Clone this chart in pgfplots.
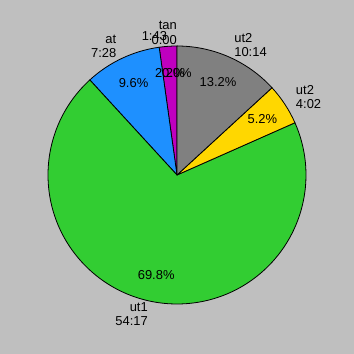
\documentclass[border=0pt]{standalone}
\usepackage{pgfplots}
\pgfplotsset{compat=1.18}
\usepackage{fontspec}
\setmainfont{Liberation Sans}
\definecolor{bgc}{HTML}{BFBFBF}
\definecolor{tanc}{HTML}{D2B48C}
\definecolor{magc}{HTML}{BF00BF}
\definecolor{bluec}{HTML}{1E90FF}
\definecolor{greenc}{HTML}{32CD32}
\definecolor{yellowc}{HTML}{FFD700}
\definecolor{grayc}{HTML}{808080}
% seconds / colour / label / percent  (counter-clockwise from 90 deg)
\def\slices{0/tanc/{tan\\0:00}/0.0, 103/magc/{\\1:43}/2.2, 448/bluec/{at\\7:28}/9.6, 3257/greenc/{ut1\\54:17}/69.8, 242/yellowc/{ut2\\4:02}/5.2, 614/grayc/{ut2\\10:14}/13.2}
\def\total{4664}
\begin{document}
\begin{tikzpicture}
\begin{axis}[scale only axis, width=354bp, height=354bp,
  xmin=-177, xmax=177, ymin=-179, ymax=175, hide axis, clip=false]
\pgfplotsextra{
  \fill[bgc] (rel axis cs:0,0) rectangle (rel axis cs:1,1);
  \foreach \v/\c/\lab/\pct [remember=\e as \s (initially 90)] in \slices {
    \pgfmathsetmacro\e{\s+(360/\total)*\v}
    \filldraw[fill=\c, draw=black, line width=0.8pt, line join=round]
      (axis cs:0,0) -- (axis cs:{129*cos(\s)},{129*sin(\s)})
      arc[start angle=\s, end angle=\e, radius=129bp] -- cycle;
  }
  \foreach \v/\c/\lab/\pct [remember=\e as \s (initially 90)] in \slices {
    \pgfmathsetmacro\e{\s+(360/\total)*\v}
    \pgfmathsetmacro\m{(\s+\e)/2}
    \pgfmathsetmacro\lx{142*cos(\m)}
    \pgfmathsetmacro\ly{142*sin(\m)}
    \pgfmathsetmacro\px{102*cos(\m)}
    \pgfmathsetmacro\py{102*sin(\m)}
    \ifdim \lx pt > 0.01pt
      \node[anchor=west, align=left, inner sep=0pt, font=\fontsize{13}{14.5}\selectfont] at (axis cs:\lx,\ly) {\lab};
    \else
      \node[anchor=east, align=right, inner sep=0pt, font=\fontsize{13}{14.5}\selectfont] at (axis cs:\lx,\ly) {\lab};
    \fi
    \node[inner sep=0pt, font=\fontsize{13}{14.5}\selectfont] at (axis cs:\px,\py) {\pct\%};
  }
}
\end{axis}
\end{tikzpicture}
\end{document}
